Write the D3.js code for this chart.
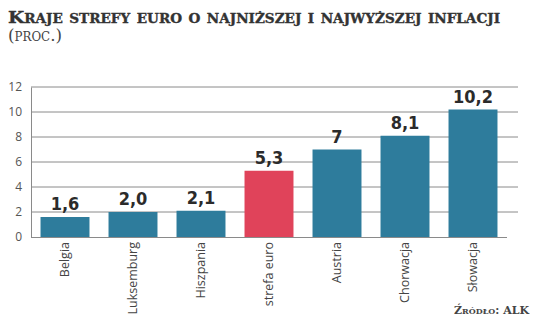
<!DOCTYPE html>
<html><head><meta charset="utf-8">
<script src="https://cdn.jsdelivr.net/npm/d3@7"></script>
<style>body{margin:0;background:#fff}</style>
</head><body>
<script>
const categories = ["Belgia","Luksemburg","Hiszpania","strefa euro","Austria","Chorwacja","Słowacja"];
const values = [1.6, 2.0, 2.1, 5.3, 7, 8.1, 10.2];
const valueLabels = ["1,6","2,0","2,1","5,3","7","8,1","10,2"];
const highlight = ["strefa euro"];
const yTicks = [0,2,4,6,8,10,12];

const W = 536, H = 330;
const svg = d3.select("body").append("svg").attr("width", W).attr("height", H);

const x = d3.scaleBand().domain(categories).range([31, 507]).paddingInner(0.28).paddingOuter(0.14);
const y = d3.scaleLinear().domain([0, 12]).range([237, 87]);

// title
svg.append("text").attr("x", 8).attr("y", 23)
  .attr("font-family", "DejaVu Serif").attr("font-weight", "bold")
  .attr("font-size", 16.5).attr("fill", "#333").attr("stroke", "#333").attr("stroke-width", 0.35)
  .style("font-variant", "small-caps")
  .attr("textLength", 492).attr("lengthAdjust", "spacingAndGlyphs")
  .text("Kraje strefy euro o najniższej i najwyższej inflacji");
svg.append("text").attr("x", 8).attr("y", 41)
  .attr("font-family", "DejaVu Serif")
  .attr("font-size", 17).attr("fill", "#444").style("font-variant", "small-caps")
  .attr("textLength", 54).attr("lengthAdjust", "spacingAndGlyphs")
  .text("(proc.)");

// gridlines
svg.append("g").selectAll("line").data(yTicks.filter(d => d > 0)).join("line")
  .attr("x1", 31).attr("x2", 518).attr("y1", d => y(d)).attr("y2", d => y(d))
  .attr("stroke", "#8a8a8a").attr("stroke-width", 1);

// y axis
const yAxis = svg.append("g").attr("transform", "translate(31,0)")
  .call(d3.axisLeft(y).tickValues(yTicks).tickSize(0).tickPadding(9));
yAxis.select(".domain").attr("stroke", "#8a8a8a");
yAxis.selectAll("text").attr("font-family", "Open Sans").attr("font-size", 12).attr("fill", "#555");

// bars
svg.append("g").selectAll("rect").data(categories).join("rect")
  .attr("x", d => x(d)).attr("width", x.bandwidth())
  .attr("y", (d, i) => y(values[i])).attr("height", (d, i) => y(0) - y(values[i]))
  .attr("fill", d => highlight.includes(d) ? "#e0435a" : "#2e7c9c");

// baseline
svg.append("line").attr("x1", 31).attr("x2", 507).attr("y1", y(0) + 0.5).attr("y2", y(0) + 0.5)
  .attr("stroke", "#8a8a8a");

// value labels
svg.append("g").selectAll("text").data(categories).join("text")
  .attr("x", d => x(d) + x.bandwidth() / 2)
  .attr("y", (d, i) => y(values[i]) - 7)
  .attr("text-anchor", "middle")
  .attr("font-family", "DejaVu Sans Condensed").attr("font-weight", "bold")
  .attr("font-size", 18).attr("fill", "#2b2b2b")
  .text((d, i) => valueLabels[i]);

// x axis labels
const xAxis = svg.append("g").attr("transform", `translate(0,${y(0)})`)
  .call(d3.axisBottom(x).tickSize(0).tickPadding(0));
xAxis.select(".domain").remove();
xAxis.selectAll("text")
  .attr("font-family", "Open Sans").attr("font-size", 12.5).attr("fill", "#444")
  .attr("text-anchor", "end").attr("dy", null)
  .attr("transform", "translate(4,5) rotate(-90)");

// source
svg.append("text").attr("x", 529).attr("y", 314).attr("text-anchor", "end")
  .attr("font-family", "DejaVu Serif").attr("font-weight", "bold")
  .attr("font-size", 11).attr("fill", "#444").style("font-variant", "small-caps")
  .text("Źródło: ALK");
</script>
</body></html>
